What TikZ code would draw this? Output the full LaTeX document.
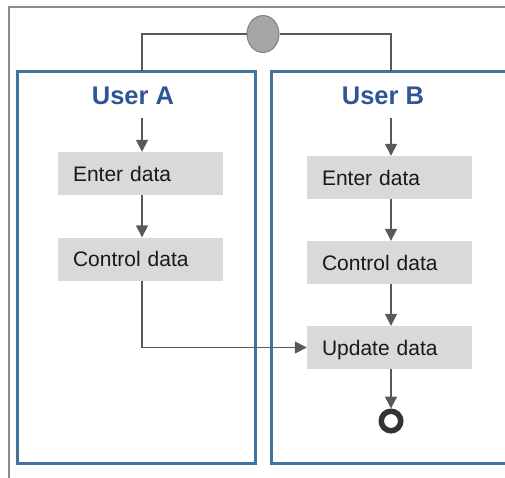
\documentclass[tikz,border=0pt]{standalone}
\usepackage{fontspec}
\setmainfont{Liberation Sans}
\usetikzlibrary{arrows.meta,shapes.geometric}
\definecolor{laneblue}{HTML}{41719C}
\definecolor{titleblue}{HTML}{2F5597}
\definecolor{boxgray}{HTML}{D9D9D9}
\definecolor{linegray}{HTML}{595959}
\definecolor{framegray}{HTML}{8C8C8C}
\begin{document}
\begin{tikzpicture}[x=1pt,y=-1pt,
  outerframe/.style={draw=framegray,line width=1.8pt},
  lane/.style={draw=laneblue,line width=3pt},
  title/.style={text=titleblue,font=\fontsize{25.5}{30}\selectfont\bfseries},
  stepbox/.style={fill=boxgray,minimum width=165pt,minimum height=43pt,inner xsep=15pt,text width=135pt,text height=15pt,text depth=0pt,align=left,font=\fontsize{21}{25}\selectfont,text=black!90},
  flow/.style={draw=linegray,line width=1.6pt,-{Triangle[length=12pt,width=12pt]}},
  conn/.style={draw=linegray,line width=1.6pt},
  fork/.style={ellipse,draw=gray,fill=black!35,line width=1pt,minimum width=32pt,minimum height=37pt,inner sep=0pt},
  finish/.style={circle,draw=black!80,line width=5.5pt,minimum size=19.5pt,inner sep=0pt}]
\useasboundingbox (0,0) rectangle (505,477);
\draw[outerframe] (9,480) -- (9,7) -- (510,7);
\draw[lane] (17,71) rectangle (255,463);
\draw[lane] (271,71) rectangle (520,463);
\node[fork] (top) at (263,34) {};
\coordinate (la) at (142,71);
\coordinate (lb) at (391,71);
\draw[conn] (top.west) -| (la);
\draw[conn] (top.east) -| (lb);
\node[title] (ta) at (133,96) {User A};
\node[title] (tb) at (383,96) {User B};
\coordinate (sa) at (142,118);
\coordinate (sb) at (391,118);
\node[stepbox] (ea) at (140.5,173.5) {Enter data};
\node[stepbox] (ca) at (140.5,259) {Control data};
\node[stepbox] (eb) at (389.5,177.5) {Enter data};
\node[stepbox] (cb) at (389.5,262.5) {Control data};
\node[stepbox] (ub) at (389.5,347.5) {Update data};
\node[finish] (end) at (391,421) {};
\draw[flow] (sa) -- (sa |- ea.north);
\draw[flow] (sa |- ea.south) -- (sa |- ca.north);
\draw[flow] (sa |- ca.south) |- (ub.west);
\draw[flow] (sb) -- (sb |- eb.north);
\draw[flow] (sb |- eb.south) -- (sb |- cb.north);
\draw[flow] (sb |- cb.south) -- (sb |- ub.north);
\draw[flow] (sb |- ub.south) -- (end.north);
\end{tikzpicture}
\end{document}
